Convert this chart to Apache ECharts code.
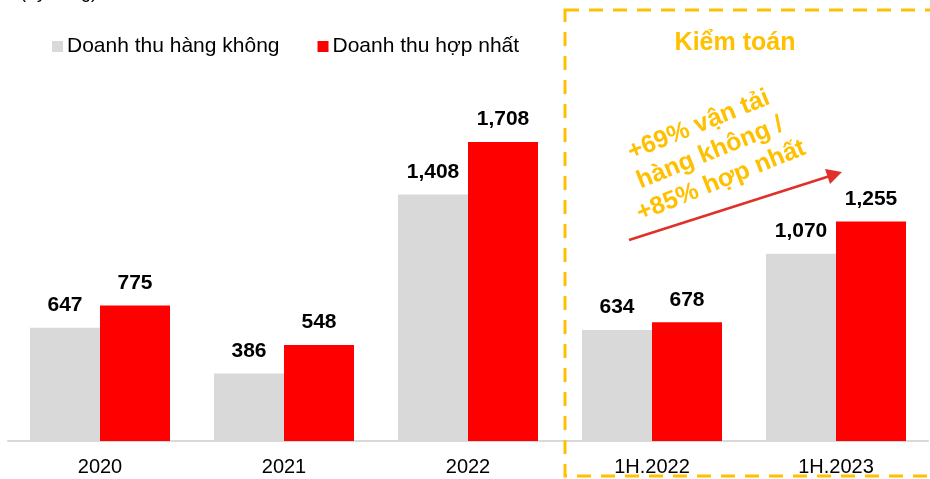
<!DOCTYPE html>
<html>
<head>
<meta charset="utf-8">
<script src="https://cdn.jsdelivr.net/npm/echarts@6/dist/echarts.min.js"></script>
<style>
  html, body { margin: 0; padding: 0; background: #fff; }
  #chart { width: 930px; height: 479px; }
</style>
</head>
<body>
<div id="chart"></div>
<script>
// du lieu doanh thu
var categories = ['2020', '2021', '2022', '1H.2022', '1H.2023'];
var hangKhong = [647, 386, 1408, 634, 1070];
var hopNhat = [775, 548, 1708, 678, 1255];
var seriesNames = ['Doanh thu hàng không', 'Doanh thu hợp nhất'];

var font = 'Liberation Sans, Arial, sans-serif';
var yellow = '#FFC000';

var chart = echarts.init(document.getElementById('chart'));

var labelStyle = {
    show: true,
    position: 'top',
    distance: 12,
    fontSize: 21,
    fontWeight: 'bold',
    color: '#000',
    fontFamily: font,
    formatter: function (p) { return p.value.toLocaleString('en-US'); }
};

var option = {
    animation: false,
    textStyle: { fontFamily: font },
    legend: {
        data: seriesNames,
        left: 47,
        top: 31,
        itemWidth: 11,
        itemHeight: 11,
        itemGap: 38,
        icon: 'rect',
        textStyle: { fontSize: 21, color: '#000', fontFamily: font, padding: [0, 0, 0, -1] }
    },
    grid: {
        left: 8,
        right: 2,
        top: 91,
        bottom: 38,
        containLabel: false
    },
    xAxis: {
        type: 'category',
        data: categories,
        axisLine: { lineStyle: { color: '#D9D9D9', width: 2 } },
        axisTick: { show: false },
        axisLabel: { fontSize: 20, color: '#000', margin: 16, fontFamily: font }
    },
    yAxis: {
        type: 'value',
        min: 0,
        max: 2000,
        show: false,
        splitLine: { show: false }
    },
    series: [
        {
            name: seriesNames[0],
            type: 'bar',
            data: hangKhong,
            barWidth: 70,
            barGap: '0%',
            itemStyle: { color: '#D9D9D9' },
            label: labelStyle
        },
        {
            name: seriesNames[1],
            type: 'bar',
            data: hopNhat,
            barWidth: 70,
            itemStyle: { color: '#FF0000' },
            label: labelStyle
        }
    ],
    graphic: [
        {
            type: 'text',
            left: 20,
            top: -16,
            style: { text: '(Tỷ đồng)', font: '18px ' + font, fill: '#000' }
        },
        {
            // khung kiem toan
            type: 'rect',
            shape: { x: 565, y: 10, width: 380, height: 466 },
            style: { fill: 'none', stroke: yellow, lineWidth: 3, lineDash: [14, 10] },
            z: 10
        },
        {
            type: 'text',
            x: 735,
            y: 43,
            style: {
                text: 'Kiểm toán',
                font: 'bold 25px ' + font,
                fill: yellow,
                align: 'center',
                verticalAlign: 'middle'
            }
        },
        {
            type: 'text',
            x: 710,
            y: 153,
            rotation: 22 * Math.PI / 180,
            style: {
                text: '+69% vận tải\nhàng không /\n+85% hợp nhất',
                font: 'bold 25px ' + font,
                lineHeight: 30,
                fill: yellow,
                align: 'center',
                verticalAlign: 'middle'
            }
        },
        {
            type: 'line',
            shape: { x1: 629, y1: 240, x2: 830, y2: 176 },
            style: { stroke: '#E0302A', lineWidth: 2.5 }
        },
        {
            type: 'polygon',
            shape: { points: [[842, 172], [825, 169], [830, 184]] },
            style: { fill: '#E0302A' }
        }
    ]
};

chart.setOption(option);
</script>
</body>
</html>
